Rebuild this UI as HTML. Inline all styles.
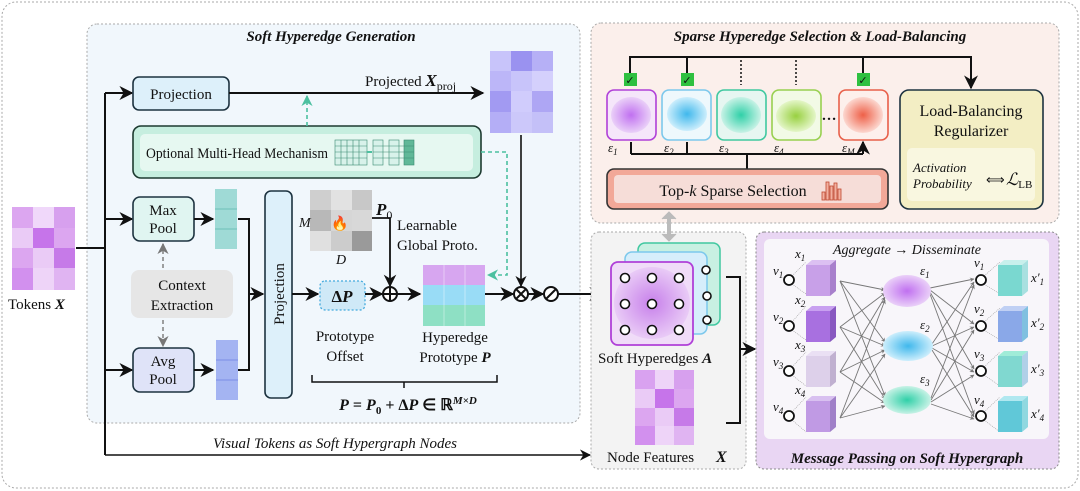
<!DOCTYPE html>
<html><head><meta charset="utf-8"><style>
body{margin:0;background:#fff}
svg{display:block}
text{font-family:"Liberation Serif",serif;fill:#111}
.it{font-style:italic}
.b{font-weight:bold}
</style></head><body>
<svg width="1080" height="491" viewBox="0 0 1080 491" xmlns="http://www.w3.org/2000/svg">
<defs>
<marker id="ar" viewBox="0 0 10 10" refX="9" refY="5" markerWidth="7" markerHeight="7" orient="auto-start-reverse"><path d="M0,0 L10,5 L0,10 L3,5 z" fill="#111"/></marker>
<marker id="ag" viewBox="0 0 10 10" refX="9" refY="5" markerWidth="7" markerHeight="7" orient="auto"><path d="M0,0 L10,5 L0,10 L3,5 z" fill="#4cc0a0"/></marker>
<marker id="ay" viewBox="0 0 10 10" refX="9" refY="5" markerWidth="7" markerHeight="7" orient="auto"><path d="M0,0 L10,5 L0,10 L3,5 z" fill="#777"/></marker>
<marker id="an" viewBox="0 0 10 10" refX="9" refY="5" markerWidth="5" markerHeight="5" orient="auto"><path d="M0,0 L10,5 L0,10 L3,5 z" fill="#777"/></marker>
<radialGradient id="gp"><stop offset="0" stop-color="#c070f0"/><stop offset="1" stop-color="#ead0f8"/></radialGradient>
<radialGradient id="gb"><stop offset="0" stop-color="#40b8ec"/><stop offset="1" stop-color="#cdeefc"/></radialGradient>
<radialGradient id="gt"><stop offset="0" stop-color="#30d0a8"/><stop offset="1" stop-color="#c8f2e6"/></radialGradient>
<radialGradient id="gl"><stop offset="0" stop-color="#98d040"/><stop offset="1" stop-color="#e4f6c8"/></radialGradient>
<radialGradient id="gr"><stop offset="0" stop-color="#ee6048"/><stop offset="1" stop-color="#fcd8d0"/></radialGradient>
<radialGradient id="gq"><stop offset="0" stop-color="#c070e8"/><stop offset="1" stop-color="#e8c8f6"/></radialGradient>
</defs>

<rect x="2" y="2" width="1076" height="486" rx="14" fill="#fff" stroke="#aaa" stroke-dasharray="2,2"/>

<rect x="87" y="24" width="493" height="399" rx="10" fill="#f1f7fc" stroke="#aaa" stroke-dasharray="2,2"/>
<text x="331" y="41" font-size="15" text-anchor="middle" class="it b">Soft Hyperedge Generation</text>

<g>
<rect x="12" y="207" width="21" height="21" fill="#dca6f0"/><rect x="33" y="207" width="21" height="21" fill="#f0d8fa"/><rect x="54" y="207" width="21" height="21" fill="#d7a0ee"/>
<rect x="12" y="228" width="21" height="20" fill="#eacbf6"/><rect x="33" y="228" width="21" height="20" fill="#c674ea"/><rect x="54" y="228" width="21" height="20" fill="#dca6f0"/>
<rect x="12" y="248" width="21" height="20" fill="#dca6f0"/><rect x="33" y="248" width="21" height="20" fill="#eacbf6"/><rect x="54" y="248" width="21" height="20" fill="#c67ae8"/>
<rect x="12" y="268" width="21" height="22" fill="#d290ee"/><rect x="33" y="268" width="21" height="22" fill="#eed4f8"/><rect x="54" y="268" width="21" height="22" fill="#e0b4f2"/>
</g>
<text x="8" y="309" font-size="15">Tokens <tspan class="it b">X</tspan></text>

<path d="M76,248 H105" stroke="#111" stroke-width="2" fill="none"/>
<path d="M105,93 V455" stroke="#111" stroke-width="2" fill="none"/>
<path d="M105,93 H132" stroke="#111" stroke-width="2" marker-end="url(#ar)"/>
<path d="M105,219 H132" stroke="#111" stroke-width="2" marker-end="url(#ar)"/>
<path d="M105,370 H132" stroke="#111" stroke-width="2" marker-end="url(#ar)"/>
<path d="M105,455 H590" stroke="#111" stroke-width="1.6" marker-end="url(#ar)"/>
<text x="335" y="448" font-size="15" class="it" text-anchor="middle">Visual Tokens as Soft Hypergraph Nodes</text>

<rect x="133" y="77" width="96" height="33" rx="6" fill="#ddf0fa" stroke="#1d3340" stroke-width="1.6"/>
<text x="181" y="99" font-size="15" text-anchor="middle">Projection</text>
<path d="M229,93 H483" stroke="#111" stroke-width="2" marker-end="url(#ar)"/>
<text x="365" y="86" font-size="15">Projected <tspan class="it b" font-size="17">X</tspan><tspan font-size="12" dy="4">proj</tspan></text>

<g>
<rect x="490" y="51" width="21" height="20" fill="#c8c4fa"/><rect x="511" y="51" width="21" height="20" fill="#9a92f0"/><rect x="532" y="51" width="21" height="20" fill="#b6b0f6"/>
<rect x="490" y="71" width="21" height="20" fill="#bcb6f8"/><rect x="511" y="71" width="21" height="20" fill="#c8c4fa"/><rect x="532" y="71" width="21" height="20" fill="#d4d0fc"/>
<rect x="490" y="91" width="21" height="21" fill="#a29af2"/><rect x="511" y="91" width="21" height="21" fill="#d0ccfc"/><rect x="532" y="91" width="21" height="21" fill="#aea6f4"/>
<rect x="490" y="112" width="21" height="21" fill="#b4aef6"/><rect x="511" y="112" width="21" height="21" fill="#ccc8fa"/><rect x="532" y="112" width="21" height="21" fill="#c4c0f8"/>
</g>
<path d="M521,135 V286" stroke="#111" stroke-width="1.6" marker-end="url(#ar)"/>

<rect x="133" y="126" width="348" height="52" rx="8" fill="#c6eedf" stroke="#1d3a30" stroke-width="1.6"/>
<rect x="140" y="134" width="333" height="37" rx="5" fill="#e6f8f1"/>
<text x="146" y="158" font-size="15" textLength="182" lengthAdjust="spacingAndGlyphs">Optional Multi-Head Mechanism</text>
<g stroke="#3a8a70" stroke-width="0.6" fill="#d8f2ea">
<rect x="335" y="140" width="32" height="25"/>
<path d="M341,140V165M347,140V165M353,140V165M359,140V165M335,146H367M335,152H367M335,158H367"/>
<rect x="373" y="140" width="10" height="25"/><rect x="389" y="140" width="10" height="25"/><rect x="404" y="140" width="10" height="25" fill="#60b898"/>
<path d="M373,146H414M373,152H414M373,158H414"/>
</g>
<path d="M367,152 H372" stroke="#4cc0a0" stroke-width="2"/>
<path d="M307,126 V96" stroke="#4cc0a0" stroke-width="1.6" stroke-dasharray="4,3" marker-end="url(#ag)"/>
<path d="M481,152 H507 V275 H488" stroke="#4cc0a0" stroke-width="1.6" stroke-dasharray="4,3" fill="none" marker-end="url(#ag)"/>

<rect x="133" y="197" width="61" height="44" rx="7" fill="#e0f5f1" stroke="#1d3340" stroke-width="1.6"/>
<text x="163" y="215" font-size="15" text-anchor="middle">Max</text><text x="163" y="233" font-size="15" text-anchor="middle">Pool</text>
<rect x="133" y="348" width="61" height="44" rx="7" fill="#dfe3f8" stroke="#1d3340" stroke-width="1.6"/>
<text x="163" y="366" font-size="15" text-anchor="middle">Avg</text><text x="163" y="384" font-size="15" text-anchor="middle">Pool</text>
<rect x="131" y="270" width="102" height="48" rx="8" fill="#e6e6e6"/>
<text x="182" y="290" font-size="15" text-anchor="middle">Context</text><text x="182" y="310" font-size="15" text-anchor="middle">Extraction</text>
<path d="M163,268 V244" stroke="#888" stroke-width="1.6" stroke-dasharray="4,3" marker-end="url(#ay)"/>
<path d="M163,320 V346" stroke="#888" stroke-width="1.6" stroke-dasharray="4,3" marker-end="url(#ay)"/>
<path d="M194,219 H213" stroke="#111" stroke-width="2" marker-end="url(#ar)"/>
<path d="M194,370 H213" stroke="#111" stroke-width="2" marker-end="url(#ar)"/>
<rect x="215" y="189" width="22" height="60" fill="#9fdad6"/><path d="M215,209H237M215,229H237" stroke="#6cc0b8"/>
<rect x="216" y="340" width="22" height="60" fill="#a4b4f2"/><path d="M216,360H238M216,380H238" stroke="#7c8ee6"/>
<path d="M238,219 H249 V370 H238" stroke="#111" stroke-width="2" fill="none"/>
<path d="M249,294 H263" stroke="#111" stroke-width="2" marker-end="url(#ar)"/>
<rect x="265" y="191" width="27" height="207" rx="6" fill="#ddf0fa" stroke="#1d3340" stroke-width="1.6"/>
<text transform="translate(284,294) rotate(-90)" font-size="15" text-anchor="middle">Projection</text>
<path d="M292,294 H318" stroke="#111" stroke-width="2" marker-end="url(#ar)"/>

<g>
<rect x="310" y="190" width="21" height="20" fill="#cfcfcf"/><rect x="331" y="190" width="21" height="20" fill="#e2e2e2"/><rect x="352" y="190" width="20" height="20" fill="#c8c8c8"/>
<rect x="310" y="210" width="21" height="21" fill="#b8b8b8"/><rect x="331" y="210" width="21" height="21" fill="#d6d6d6"/><rect x="352" y="210" width="20" height="21" fill="#d8d8d8"/>
<rect x="310" y="231" width="21" height="20" fill="#e0e0e0"/><rect x="331" y="231" width="21" height="20" fill="#cccccc"/><rect x="352" y="231" width="20" height="20" fill="#9a9a9a"/>
</g>
<text x="340" y="228" font-size="14" text-anchor="middle" fill="#f05020">🔥</text>
<text x="299" y="227" font-size="14" class="it">M</text>
<text x="336" y="264" font-size="14" class="it">D</text>
<text x="376" y="215" font-size="17" class="it b">P<tspan font-size="12" dy="4" font-style="normal" font-weight="normal">0</tspan></text>
<text x="397" y="230" font-size="15">Learnable</text>
<text x="397" y="250" font-size="15">Global Proto.</text>
<path d="M372,218 H390 V286" stroke="#111" stroke-width="1.8" fill="none" marker-end="url(#ar)"/>
<rect x="320" y="281" width="45" height="29" rx="5" fill="#cfe9f7" stroke="#44aadd" stroke-width="1.3" stroke-dasharray="2,2"/>
<text x="342" y="302" font-size="17" text-anchor="middle" class="b">Δ<tspan class="it">P</tspan></text>
<path d="M365,294 H382" stroke="#111" stroke-width="2" marker-end="url(#ar)"/>
<circle cx="390" cy="294" r="7" fill="#fff" stroke="#111" stroke-width="2"/><path d="M383,294H397M390,287V301" stroke="#111" stroke-width="2"/>
<path d="M397,294 H420" stroke="#111" stroke-width="2" marker-end="url(#ar)"/>
<rect x="423" y="265" width="62" height="20" fill="#d7a6f0"/><rect x="423" y="285" width="62" height="20" fill="#99dcf6"/><rect x="423" y="305" width="62" height="21" fill="#8ee0c4"/>
<path d="M444,265V326M465,265V326" stroke="#fff" stroke-opacity="0.4"/>
<text x="345" y="341" font-size="15" text-anchor="middle">Prototype</text><text x="345" y="361" font-size="15" text-anchor="middle">Offset</text>
<text x="455" y="342" font-size="15" text-anchor="middle">Hyperedge</text><text x="455" y="362" font-size="15" text-anchor="middle">Prototype <tspan class="it b">P</tspan></text>
<path d="M312,375 V382 H497 V375 M404,382 V388" stroke="#111" stroke-width="1.5" fill="none"/>
<text x="408" y="410" font-size="16" text-anchor="middle" class="b"><tspan class="it">P</tspan> = <tspan class="it">P</tspan><tspan font-size="11" dy="4">0</tspan><tspan dy="-4"> + Δ</tspan><tspan class="it">P</tspan> ∈ ℝ<tspan font-size="11" dy="-6" class="it">M×D</tspan></text>
<path d="M485,294 H513" stroke="#111" stroke-width="2" marker-end="url(#ar)"/>
<circle cx="521" cy="294" r="7" fill="#fff" stroke="#111" stroke-width="2"/><path d="M516,289L526,299M526,289L516,299" stroke="#111" stroke-width="2"/>
<path d="M528,294 H543" stroke="#111" stroke-width="2" marker-end="url(#ar)"/>
<circle cx="551" cy="294" r="7" fill="#fff" stroke="#111" stroke-width="2"/><path d="M546,299 L556,289" stroke="#111" stroke-width="2"/>
<path d="M558,294 H602" stroke="#111" stroke-width="2" marker-end="url(#ar)"/>

<rect x="591" y="23" width="468" height="200" rx="10" fill="#fbefeb" stroke="#aaa" stroke-dasharray="2,2"/>
<text x="820" y="41" font-size="15" text-anchor="middle" class="it b">Sparse Hyperedge Selection &amp; Load-Balancing</text>
<path d="M630,73 V57 H971 V88" stroke="#111" stroke-width="2" fill="none" marker-end="url(#ar)"/>
<path d="M687,57 V73 M863,57 V73" stroke="#111" stroke-width="2"/>
<path d="M741,60 V85 M796,60 V85" stroke="#111" stroke-width="1.5" stroke-dasharray="2,2"/>
<g font-size="11" text-anchor="middle">
<rect x="624" y="73" width="13" height="13" fill="#2ec040"/><text x="630" y="84" fill="#fff" font-family="DejaVu Sans">✓</text>
<rect x="681" y="73" width="13" height="13" fill="#2ec040"/><text x="687" y="84" fill="#fff" font-family="DejaVu Sans">✓</text>
<rect x="857" y="73" width="13" height="13" fill="#2ec040"/><text x="863" y="84" fill="#fff" font-family="DejaVu Sans">✓</text>
</g>
<rect x="607" y="90" width="49" height="50" rx="7" fill="#f5e6fa" stroke="#b040d8" stroke-width="1.6"/><ellipse cx="631" cy="115" rx="20" ry="18" fill="url(#gp)"/>
<rect x="662" y="90" width="49" height="50" rx="7" fill="#eef8fc" stroke="#7cc8ec" stroke-width="1.6"/><ellipse cx="687" cy="114" rx="20" ry="17" fill="url(#gb)"/>
<rect x="717" y="90" width="49" height="50" rx="7" fill="#e6f6f1" stroke="#40c8a0" stroke-width="1.6"/><ellipse cx="741" cy="115" rx="20" ry="18" fill="url(#gt)"/>
<rect x="772" y="90" width="49" height="50" rx="7" fill="#f2fae6" stroke="#98d050" stroke-width="1.6"/><ellipse cx="796" cy="116" rx="20" ry="16" fill="url(#gl)"/>
<text x="829" y="120" font-size="15" text-anchor="middle" class="b">…</text>
<rect x="839" y="90" width="49" height="50" rx="7" fill="#fdf0ec" stroke="#e8604a" stroke-width="1.6"/><ellipse cx="863" cy="115" rx="20" ry="18" fill="url(#gr)"/>
<g font-size="13" class="it">
<text x="608" y="152">ε<tspan font-size="9" dy="3">1</tspan></text><text x="664" y="152">ε<tspan font-size="9" dy="3">2</tspan></text>
<text x="719" y="152">ε<tspan font-size="9" dy="3">3</tspan></text><text x="774" y="152">ε<tspan font-size="9" dy="3">4</tspan></text>
<text x="842" y="152">ε<tspan font-size="9" dy="3">M</tspan></text></g>
<path d="M631,154 H863 M747,154 V169" stroke="#111" stroke-width="2" fill="none"/>
<path d="M631,154 V142 M687,154 V142 M863,154 V142" stroke="#111" stroke-width="2" marker-end="url(#ar)"/>
<rect x="607" y="169" width="281" height="40" rx="7" fill="#f2a898" stroke="#333" stroke-width="1.6"/>
<rect x="614" y="175" width="267" height="28" rx="4" fill="#f6ddd8"/>
<text x="733" y="196" font-size="16" text-anchor="middle">Top-<tspan class="it">k</tspan> Sparse Selection</text>
<g fill="#f2b0a0" stroke="#c04830" stroke-width="0.8"><rect x="822" y="192" width="3" height="8"/><rect x="826" y="182" width="3" height="18"/><rect x="830" y="186" width="3" height="14"/><rect x="834" y="183" width="3" height="17"/><rect x="838" y="189" width="3" height="11"/></g>
<rect x="900" y="90" width="143" height="119" rx="9" fill="#f3eec4" stroke="#1d3340" stroke-width="1.6"/>
<text x="971" y="116" font-size="16" text-anchor="middle">Load-Balancing</text>
<text x="971" y="136" font-size="16" text-anchor="middle">Regularizer</text>
<rect x="907" y="148" width="128" height="53" rx="5" fill="#f9f7e0"/>
<text x="913" y="172" font-size="13" class="it">Activation</text><text x="913" y="188" font-size="13" class="it">Probability</text>
<text x="986" y="184" font-size="13" fill="#bbb" font-family="DejaVu Sans">⟺</text>
<text x="1006" y="185" font-size="17" class="it">ℒ<tspan font-size="11" dy="3" font-style="normal">LB</tspan></text>

<rect x="591" y="232" width="155" height="237" rx="8" fill="#f3f3f3" stroke="#aaa" stroke-dasharray="2,2"/>
<path d="M669,213 V240" stroke="#bbb" stroke-width="4"/>
<path d="M662,219 L669,212 L676,219 M662,234 L669,241 L676,234" fill="#bbb" stroke="#bbb" stroke-width="1"/>
<rect x="638" y="243" width="82" height="82" rx="7" fill="#c8f0e2" stroke="#40c8a0" stroke-width="1.5"/>
<rect x="625" y="252" width="82" height="82" rx="7" fill="#d6eefb" stroke="#7cc8ec" stroke-width="1.5"/>
<rect x="611" y="262" width="82" height="83" rx="7" fill="#f0dcf8" stroke="#b040d8" stroke-width="1.8"/>
<ellipse cx="652" cy="303" rx="38" ry="36" fill="url(#gq)" opacity="0.85"/>
<g fill="#fff" stroke="#111" stroke-width="1.6">
<circle cx="625" cy="278" r="4.5"/><circle cx="652" cy="278" r="4.5"/><circle cx="679" cy="278" r="4.5"/>
<circle cx="625" cy="304" r="4.5"/><circle cx="652" cy="304" r="4.5"/><circle cx="679" cy="304" r="4.5"/>
<circle cx="625" cy="330" r="4.5"/><circle cx="652" cy="330" r="4.5"/><circle cx="679" cy="330" r="4.5"/>
<circle cx="706" cy="270" r="4"/><circle cx="707" cy="296" r="4"/><circle cx="707" cy="320" r="4"/>
</g>
<text x="598" y="363" font-size="15">Soft Hyperedges <tspan class="it b">A</tspan></text>
<g>
<rect x="635" y="370" width="20" height="19" fill="#d9a2f0"/><rect x="655" y="370" width="19" height="19" fill="#eed4f8"/><rect x="674" y="370" width="20" height="19" fill="#d7a0ee"/>
<rect x="635" y="389" width="20" height="19" fill="#eacbf6"/><rect x="655" y="389" width="19" height="19" fill="#c674ea"/><rect x="674" y="389" width="20" height="19" fill="#dca6f0"/>
<rect x="635" y="408" width="20" height="18" fill="#dca6f0"/><rect x="655" y="408" width="19" height="18" fill="#eacbf6"/><rect x="674" y="408" width="20" height="18" fill="#c67ae8"/>
<rect x="635" y="426" width="20" height="19" fill="#d290ee"/><rect x="655" y="426" width="19" height="19" fill="#eed4f8"/><rect x="674" y="426" width="20" height="19" fill="#e0b4f2"/>
</g>
<text x="607" y="462" font-size="15">Node Features</text><text x="716" y="462" font-size="16" class="it b">X</text>
<path d="M726,277 H740 V423 H726" stroke="#111" stroke-width="2" fill="none"/>
<path d="M740,349 H755" stroke="#111" stroke-width="2" marker-end="url(#ar)"/>

<rect x="756" y="232" width="303" height="237" rx="8" fill="#e9d6f3" stroke="#888" stroke-dasharray="2,2"/>
<rect x="764" y="239" width="285" height="200" rx="6" fill="#f8f6fa"/>
<text x="907" y="254" font-size="14" text-anchor="middle" class="it">Aggregate → Disseminate</text>
<text x="907" y="463" font-size="15" text-anchor="middle" class="it b">Message Passing on Soft Hypergraph</text>
<g stroke="#999" stroke-width="0.6" stroke-dasharray="1,1">
<path d="M792,276 L806,262 M792,284 L806,294 M792,322 L806,306 M792,330 L806,340 M792,367 L806,352 M792,375 L806,386 M792,412 L806,397 M792,420 L806,432"/>
<path d="M984,276 L1000,262 M984,284 L1000,294 M984,322 L1000,308 M984,330 L1000,340 M984,367 L1000,352 M984,375 L1000,386 M984,412 L1000,397 M984,420 L1000,432"/>
</g>
<g>
<rect x="806" y="265" width="24" height="31" fill="#c8a0e8"/><path d="M806,265 l6,-5 h24 l-6,5z" fill="#dcc0f2"/><path d="M830,265 l6,-5 v31 l-6,5z" fill="#a880cc"/>
<rect x="806" y="311" width="24" height="31" fill="#a870e0"/><path d="M806,311 l6,-5 h24 l-6,5z" fill="#c8a0f0"/><path d="M830,311 l6,-5 v31 l-6,5z" fill="#8858c0"/>
<rect x="806" y="356" width="24" height="31" fill="#ddd0ea"/><path d="M806,356 l6,-5 h24 l-6,5z" fill="#eae0f4"/><path d="M830,356 l6,-5 v31 l-6,5z" fill="#c0b0d0"/>
<rect x="806" y="401" width="24" height="31" fill="#c09ae4"/><path d="M806,401 l6,-5 h24 l-6,5z" fill="#d8c0f0"/><path d="M830,401 l6,-5 v31 l-6,5z" fill="#a080c8"/>
<rect x="998" y="265" width="24" height="31" fill="#7ad8d0"/><path d="M998,265 l6,-5 h24 l-6,5z" fill="#c8f0ec"/><path d="M1022,265 l6,-5 v31 l-6,5z" fill="#a8e0e0"/>
<rect x="998" y="311" width="24" height="31" fill="#8aa8e8"/><path d="M998,311 l6,-5 h24 l-6,5z" fill="#c0d0f4"/><path d="M1022,311 l6,-5 v31 l-6,5z" fill="#80c0e0"/>
<rect x="998" y="356" width="24" height="31" fill="#80d8d0"/><path d="M998,356 l6,-5 h24 l-6,5z" fill="#a0ecd8"/><path d="M1022,356 l6,-5 v31 l-6,5z" fill="#b0d0e8"/>
<rect x="998" y="401" width="24" height="31" fill="#60c8d8"/><path d="M998,401 l6,-5 h24 l-6,5z" fill="#b0e8f0"/><path d="M1022,401 l6,-5 v31 l-6,5z" fill="#90d8e0"/>
</g>
<g fill="#fff" stroke="#111" stroke-width="1.8">
<circle cx="789" cy="280" r="5"/><circle cx="789" cy="326" r="5"/><circle cx="789" cy="371" r="5"/><circle cx="789" cy="416" r="5"/>
<circle cx="981" cy="280" r="5"/><circle cx="981" cy="326" r="5"/><circle cx="981" cy="371" r="5"/><circle cx="981" cy="416" r="5"/>
</g>
<g stroke="#777" stroke-width="0.9" marker-end="url(#an)">
<path d="M840,281 L885,290"/><path d="M840,281 L885,342"/><path d="M840,281 L885,396"/>
<path d="M840,327 L885,293"/><path d="M840,327 L885,346"/><path d="M840,327 L885,399"/>
<path d="M840,372 L885,297"/><path d="M840,372 L885,350"/><path d="M840,372 L885,403"/>
<path d="M840,418 L885,300"/><path d="M840,418 L885,354"/><path d="M840,418 L885,406"/>
<path d="M930,288 L974,279"/><path d="M930,290 L974,324"/><path d="M930,292 L974,369"/><path d="M930,294 L974,414"/>
<path d="M932,344 L974,282"/><path d="M932,346 L974,327"/><path d="M932,348 L974,372"/><path d="M932,350 L974,417"/>
<path d="M931,398 L974,285"/><path d="M931,400 L974,330"/><path d="M931,402 L974,375"/><path d="M931,404 L974,419"/>
</g>
<ellipse cx="907" cy="291" rx="24" ry="16" fill="url(#gp)"/>
<ellipse cx="908" cy="346" rx="25" ry="15" fill="url(#gb)"/>
<ellipse cx="907" cy="400" rx="24" ry="14" fill="url(#gt)"/>
<g font-size="13" class="it">
<text x="773" y="275">v<tspan font-size="9" dy="3">1</tspan></text><text x="773" y="321">v<tspan font-size="9" dy="3">2</tspan></text>
<text x="773" y="366">v<tspan font-size="9" dy="3">3</tspan></text><text x="773" y="411">v<tspan font-size="9" dy="3">4</tspan></text>
<text x="795" y="258">x<tspan font-size="9" dy="3">1</tspan></text><text x="795" y="304">x<tspan font-size="9" dy="3">2</tspan></text>
<text x="795" y="349">x<tspan font-size="9" dy="3">3</tspan></text><text x="795" y="394">x<tspan font-size="9" dy="3">4</tspan></text>
<text x="974" y="267">v<tspan font-size="9" dy="3">1</tspan></text><text x="974" y="313">v<tspan font-size="9" dy="3">2</tspan></text>
<text x="974" y="358">v<tspan font-size="9" dy="3">3</tspan></text><text x="974" y="404">v<tspan font-size="9" dy="3">4</tspan></text>
<text x="1031" y="282">x′<tspan font-size="9" dy="3">1</tspan></text><text x="1031" y="327">x′<tspan font-size="9" dy="3">2</tspan></text>
<text x="1031" y="373">x′<tspan font-size="9" dy="3">3</tspan></text><text x="1031" y="418">x′<tspan font-size="9" dy="3">4</tspan></text>
<text x="920" y="275">ε<tspan font-size="9" dy="3">1</tspan></text><text x="920" y="329">ε<tspan font-size="9" dy="3">2</tspan></text><text x="920" y="383">ε<tspan font-size="9" dy="3">3</tspan></text>
</g>
</svg>
</body></html>
